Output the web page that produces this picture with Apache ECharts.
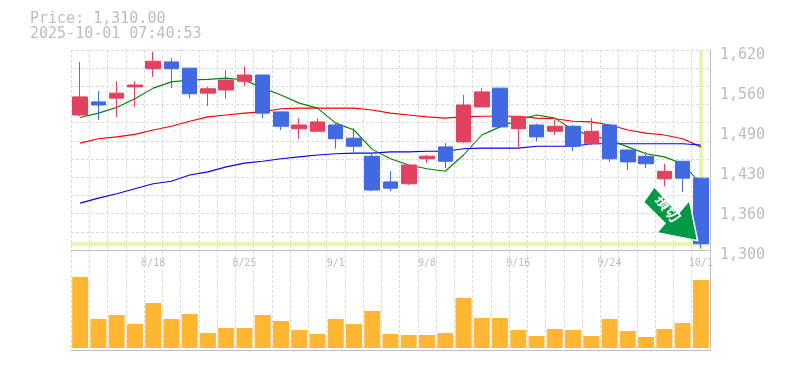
<!DOCTYPE html>
<html>
<head>
<meta charset="utf-8">
<style>html,body{margin:0;padding:0;background:#fff}#c{width:785px;height:370px}</style>
<script src="https://cdn.jsdelivr.net/npm/echarts@6/dist/echarts.min.js"></script>
</head>
<body>
<div id="c"></div>
<script>
const headline = 'Price: 1,310.00';
const stamp = '2025-10-01 07:40:53';
const dates = ['8/12','8/13','8/14','8/15','8/18','8/19','8/20','8/21','8/22','8/25','8/26','8/27','8/28','8/29','9/1','9/2','9/3','9/4','9/5','9/8','9/9','9/10','9/11','9/12','9/16','9/17','9/18','9/19','9/22','9/24','9/25','9/26','9/29','9/30','10/1'];
const dateTicks = ['8/18','8/25','9/1','9/8','9/16','9/24','10/1'];
const priceTickValues = [1300,1364,1428,1492,1556,1620];
const priceTickLabels = ['1,300','1,360','1,430','1,490','1,560','1,620'];
const open  = [1516,1537,1543,1561,1590,1601,1591,1551,1556,1570,1580,1521,1494,1490,1500,1479,1450,1409,1406,1446,1465,1473,1529,1559,1494,1500,1490,1498,1470,1500,1460,1450,1414,1442,1415];
const close = [1545,1532,1551,1564,1602,1590,1550,1558,1572,1580,1519,1498,1500,1505,1478,1466,1396,1399,1436,1450,1442,1532,1553,1497,1513,1481,1498,1466,1490,1446,1441,1438,1426,1415,1310];
const low   = [1514,1508,1513,1529,1577,1559,1543,1530,1542,1562,1511,1492,1478,1490,1462,1457,1394,1394,1404,1439,1431,1471,1529,1495,1462,1474,1484,1458,1468,1441,1428,1431,1402,1393,1303];
const high  = [1601,1554,1570,1570,1617,1607,1591,1561,1588,1594,1580,1521,1511,1511,1503,1495,1455,1426,1436,1452,1471,1548,1559,1559,1513,1502,1508,1500,1511,1500,1460,1457,1438,1442,1415];
const maGreen = [1512,1519,1528,1542,1559,1569,1572,1573,1575,1572,1559,1548,1535,1527,1503,1492,1461,1446,1436,1430,1426,1452,1484,1497,1508,1516,1511,1492,1483,1476,1465,1454,1449,1438,1406];
const maRed   = [1471,1478,1481,1485,1492,1498,1506,1513,1516,1519,1521,1526,1527,1527,1527,1527,1524,1519,1516,1513,1511,1513,1514,1514,1514,1511,1510,1506,1505,1500,1492,1487,1484,1478,1465];
const maBlue  = [1375,1383,1390,1398,1406,1410,1420,1425,1433,1439,1442,1446,1449,1452,1454,1455,1455,1457,1457,1458,1458,1462,1463,1463,1463,1466,1466,1466,1470,1470,1470,1470,1470,1470,1468];
const volume  = [71,29,33,24,45,29,34,15,20,20,33,27,18,14,29,24,37,14,13,13,15,50,30,30,18,12,19,18,12,29,17,11,19,25,68];
const priceMin = 1300, priceMax = 1620, gridDivisions = 11;

const gridColor = '#dadada', axisColor = '#c0c0c0', textColor = '#bcbcbc';
const latestDate = dates[dates.length - 1], latestClose = close[close.length - 1];
const gridValues = Array.from({length: gridDivisions + 1}, (_, i) => priceMin + (priceMax - priceMin) * i / gridDivisions);
const dashed = {show: true, lineStyle: {color: gridColor, width: 1, type: [3, 2]}};
const maLine = (data, color) => ({type: 'line', data, xAxisIndex: 0, yAxisIndex: 0, showSymbol: false, symbol: 'none', z: 3, silent: true,
  lineStyle: {color, width: 1.1}});

const chart = echarts.init(document.getElementById('c'), null, {renderer: 'canvas'});
chart.setOption({
  animation: false,
  backgroundColor: '#fff',
  title: {text: headline + '\n' + stamp, left: 30, top: 12, padding: 0,
    textStyle: {fontFamily: 'DejaVu Sans Mono', fontSize: 15, fontWeight: 'normal', color: textColor, lineHeight: 15}},
  grid: [
    {left: 71, top: 50, width: 639, height: 200},
    {left: 71, top: 250, width: 639, height: 100}
  ],
  xAxis: [
    {type: 'category', gridIndex: 0, data: dates, boundaryGap: true,
      axisLine: {show: true, lineStyle: {color: axisColor}}, axisTick: {show: false}, axisLabel: {show: false},
      splitLine: Object.assign({interval: 0}, dashed)},
    {type: 'category', gridIndex: 1, data: dates, boundaryGap: true, position: 'bottom',
      axisLine: {show: true, onZero: false, lineStyle: {color: axisColor}}, axisTick: {show: false}, axisLabel: {show: false},
      splitLine: Object.assign({interval: 0}, dashed)},
    {type: 'category', gridIndex: 1, data: dates, boundaryGap: true, position: 'top',
      axisLine: {show: false}, axisTick: {show: false}, splitLine: {show: false},
      axisLabel: {show: true, inside: true, margin: 8, hideOverlap: false,
        interval: (i, v) => dateTicks.includes(v),
        fontFamily: 'DejaVu Sans Mono', fontSize: 10, color: textColor}}
  ],
  yAxis: [
    {type: 'value', gridIndex: 0, min: priceMin, max: priceMax, position: 'right',
      axisLine: {show: true, lineStyle: {color: axisColor}},
      axisTick: {show: false, customValues: gridValues},
      splitLine: dashed,
      axisLabel: {show: true, customValues: priceTickValues, margin: 10, verticalAlign: 'top', lineHeight: 10,
        formatter: v => priceTickLabels[priceTickValues.indexOf(v)],
        fontFamily: 'DejaVu Sans Mono', fontSize: 15, color: textColor}},
    {type: 'value', gridIndex: 1, min: -2, max: 98, position: 'right',
      axisLine: {show: true, lineStyle: {color: axisColor}},
      axisTick: {show: false}, axisLabel: {show: false}, splitLine: {show: false}}
  ],
  series: [
    maLine(maRed, '#ff0000'),
    maLine(maBlue, '#0000ff'),
    maLine(maGreen, '#008000'),
    {type: 'candlestick', xAxisIndex: 0, yAxisIndex: 0, z: 5, silent: true, barWidth: 15,
      data: dates.map((_, i) => [open[i], close[i], low[i], high[i]]),
      itemStyle: {color: '#e2415f', color0: '#4169e1', borderColor: '#e2415f', borderColor0: '#4169e1', borderWidth: 1},
      markLine: {silent: true, symbol: 'none', z: 1, animation: false, label: {show: false},
        lineStyle: {color: '#e3f6a5', width: 3.5, type: 'solid'},
        data: [{yAxis: latestClose}, {xAxis: latestDate}]},
      markPoint: {silent: true, z: 10, animation: false,
        symbol: 'path://M10.3,0 L0,14.7 L20.3,34.7 L12.6,43.7 L51.3,51.3 L43.6,13 L33,25.3 Z',
        symbolSize: [54, 54], symbolOffset: [-30.3, -30.1], symbolKeepAspect: false,
        itemStyle: {color: '#009944', borderColor: '#fff', borderWidth: 1.5},
        label: {show: true, position: 'inside', formatter: '損切', rotate: -54, offset: [-6, -1.5],
          fontFamily: 'Noto Sans CJK JP', fontWeight: 'bold', fontSize: 15, color: '#fff'},
        data: [{coord: [latestDate, latestClose]}]}},
    {type: 'bar', xAxisIndex: 1, yAxisIndex: 1, data: volume, barWidth: 16, silent: true,
      itemStyle: {color: '#ffb733'}}
  ]
});
</script>
</body>
</html>
